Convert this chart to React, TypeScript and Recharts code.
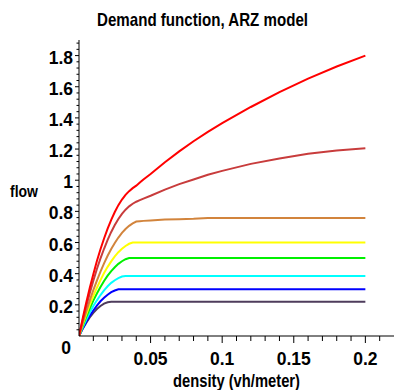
import { LineChart, Line, XAxis, YAxis } from "recharts";

// density grid (vh/meter)
const density = [
  0, 0.0025, 0.005, 0.0075, 0.01, 0.0125, 0.015, 0.0175, 0.02, 0.0225, 0.025,
  0.0275, 0.03, 0.0325, 0.035, 0.0375, 0.04, 0.0425, 0.045, 0.05, 0.06, 0.07,
  0.08, 0.09, 0.1, 0.12, 0.14, 0.16, 0.18, 0.2,
];

const flowRed = [
  0, 0.109, 0.212, 0.308, 0.397, 0.481, 0.557, 0.626, 0.689, 0.746, 0.796,
  0.84, 0.876, 0.906, 0.93, 0.949, 0.965, 0.985, 1.005, 1.04, 1.115, 1.185,
  1.25, 1.31, 1.366, 1.47, 1.566, 1.652, 1.73, 1.8,
];
const flowBrown = [
  0, 0.098, 0.19, 0.275, 0.355, 0.43, 0.498, 0.56, 0.617, 0.668, 0.712,
  0.751, 0.784, 0.811, 0.832, 0.849, 0.862, 0.872, 0.882, 0.9, 0.94, 0.975,
  1.005, 1.035, 1.06, 1.105, 1.14, 1.17, 1.19, 1.205,
];
const flowOrange = [
  0, 0.08, 0.156, 0.227, 0.294, 0.356, 0.413, 0.466, 0.515, 0.558, 0.597,
  0.632, 0.662, 0.687, 0.707, 0.723, 0.735, 0.737, 0.739, 0.742, 0.748, 0.75,
  0.752, 0.757, 0.758, 0.758, 0.758, 0.758, 0.758, 0.758,
];
const flowYellow = [
  0, 0.071, 0.137, 0.199, 0.257, 0.31, 0.359, 0.404, 0.444, 0.479, 0.511,
  0.538, 0.56, 0.578, 0.592, 0.6, 0.6, 0.6, 0.6, 0.6, 0.6, 0.6, 0.6, 0.6, 0.6,
  0.6, 0.6, 0.6, 0.6, 0.6,
];
const flowGreen = [
  0, 0.063, 0.122, 0.176, 0.227, 0.273, 0.315, 0.353, 0.387, 0.416, 0.441,
  0.463, 0.48, 0.493, 0.5, 0.5, 0.5, 0.5, 0.5, 0.5, 0.5, 0.5, 0.5, 0.5, 0.5,
  0.5, 0.5, 0.5, 0.5, 0.5,
];
const flowCyan = [
  0, 0.054, 0.104, 0.15, 0.192, 0.229, 0.263, 0.293, 0.319, 0.341, 0.358,
  0.372, 0.382, 0.385, 0.385, 0.385, 0.385, 0.385, 0.385, 0.385, 0.385, 0.385,
  0.385, 0.385, 0.385, 0.385, 0.385, 0.385, 0.385, 0.385,
];
const flowBlue = [
  0, 0.047, 0.09, 0.129, 0.164, 0.195, 0.223, 0.246, 0.265, 0.281, 0.292, 0.3,
  0.3, 0.3, 0.3, 0.3, 0.3, 0.3, 0.3, 0.3, 0.3, 0.3, 0.3, 0.3, 0.3, 0.3, 0.3,
  0.3, 0.3, 0.3,
];
const flowPurple = [
  0, 0.045, 0.084, 0.119, 0.149, 0.173, 0.193, 0.208, 0.217, 0.22, 0.22, 0.22,
  0.22, 0.22, 0.22, 0.22, 0.22, 0.22, 0.22, 0.22, 0.22, 0.22, 0.22, 0.22, 0.22,
  0.22, 0.22, 0.22, 0.22, 0.22,
];

const xTicks = [
  0.01, 0.02, 0.03, 0.04, 0.05, 0.06, 0.07, 0.08, 0.09, 0.1, 0.11, 0.12, 0.13,
  0.14, 0.15, 0.16, 0.17, 0.18, 0.19, 0.2, 0.21,
];
const xMajor = [0.05, 0.1, 0.15, 0.2];
const yMajor = [0, 0.2, 0.4, 0.6, 0.8, 1, 1.2, 1.4, 1.6, 1.8];
const yTicks = Array.from({ length: 48 }, (_, i) => Math.round(i * 4) / 100);

const series = [
  { key: "purple", color: "#4e3c5c", values: flowPurple },
  { key: "blue", color: "#0000ff", values: flowBlue },
  { key: "cyan", color: "#00ffff", values: flowCyan },
  { key: "green", color: "#00f000", values: flowGreen },
  { key: "yellow", color: "#ffff00", values: flowYellow },
  { key: "orange", color: "#d2843c", values: flowOrange },
  { key: "brown", color: "#c83c3c", values: flowBrown },
  { key: "red", color: "#ff0000", values: flowRed },
];

const data = density.map((d, i) => {
  const row: any = { density: d };
  series.forEach((s) => {
    row[s.key] = s.values[i];
  });
  return row;
});

const font = "'Liberation Sans', Arial, sans-serif";

const XTick = (props: any) => {
  const { x, y, payload } = props;
  const major = xMajor.includes(payload.value);
  return (
    <g>
      <line x1={x} x2={x} y1={y} y2={y + (major ? 7 : 5)} stroke="#000" />
      {major && (
        <text
          x={x}
          y={y + 29}
          textAnchor="middle"
          fontFamily={font}
          fontWeight="bold"
          fontSize={17.5}
          fill="#000"
        >
          {String(payload.value)}
        </text>
      )}
    </g>
  );
};

const YTick = (props: any) => {
  const { x, y, payload } = props;
  const major = yMajor.includes(payload.value);
  if (payload.value === 0) {
    return (
      <text
        x={x - 8}
        y={y + 18}
        textAnchor="end"
        fontFamily={font}
        fontWeight="bold"
        fontSize={17.5}
        fill="#000"
      >
        0
      </text>
    );
  }
  return (
    <g>
      <line x1={x} x2={x - (major ? 4 : 2.5)} y1={y} y2={y} stroke="#000" />
      {major && (
        <text
          x={x - 6}
          y={y + 8}
          textAnchor="end"
          fontFamily={font}
          fontWeight="bold"
          fontSize={17.5}
          fill="#000"
        >
          {String(payload.value)}
        </text>
      )}
    </g>
  );
};

export default function App() {
  return (
    <div
      style={{
        position: "absolute",
        left: 0,
        top: 0,
        width: 394,
        height: 390,
        background: "#fff",
      }}
    >
      <LineChart
        width={394}
        height={390}
        data={data}
        margin={{ top: 40, right: 0, bottom: 0, left: 0 }}
      >
        <XAxis
          dataKey="density"
          type="number"
          domain={[0, 0.22]}
          ticks={xTicks}
          tick={<XTick />}
          tickLine={false}
          tickSize={0}
          tickMargin={0}
          height={54}
          interval={0}
          stroke="#000"
          allowDataOverflow
        />
        <YAxis
          type="number"
          domain={[0, 1.9]}
          ticks={yTicks}
          tick={<YTick />}
          tickLine={false}
          tickSize={0}
          tickMargin={0}
          width={79}
          interval={0}
          stroke="#000"
          allowDataOverflow
        />
        {series.map((s) => (
          <Line
            key={s.key}
            dataKey={s.key}
            type="linear"
            stroke={s.color}
            strokeWidth={2}
            dot={false}
            isAnimationActive={false}
          />
        ))}
      </LineChart>
      <svg
        width={394}
        height={390}
        style={{ position: "absolute", left: 0, top: 0, pointerEvents: "none" }}
      >
        <text
          x={97}
          y={26}
          textLength={211}
          lengthAdjust="spacingAndGlyphs"
          fontFamily={font}
          fontWeight="bold"
          fontSize={18.5}
          fill="#000"
        >
          Demand function, ARZ model
        </text>
        <text
          x={10}
          y={197}
          textLength={28}
          lengthAdjust="spacingAndGlyphs"
          fontFamily={font}
          fontWeight="bold"
          fontSize={17}
          fill="#000"
        >
          flow
        </text>
        <text
          x={173}
          y={387}
          textLength={127}
          lengthAdjust="spacingAndGlyphs"
          fontFamily={font}
          fontWeight="bold"
          fontSize={18}
          fill="#000"
        >
          density (vh/meter)
        </text>
      </svg>
    </div>
  );
}
